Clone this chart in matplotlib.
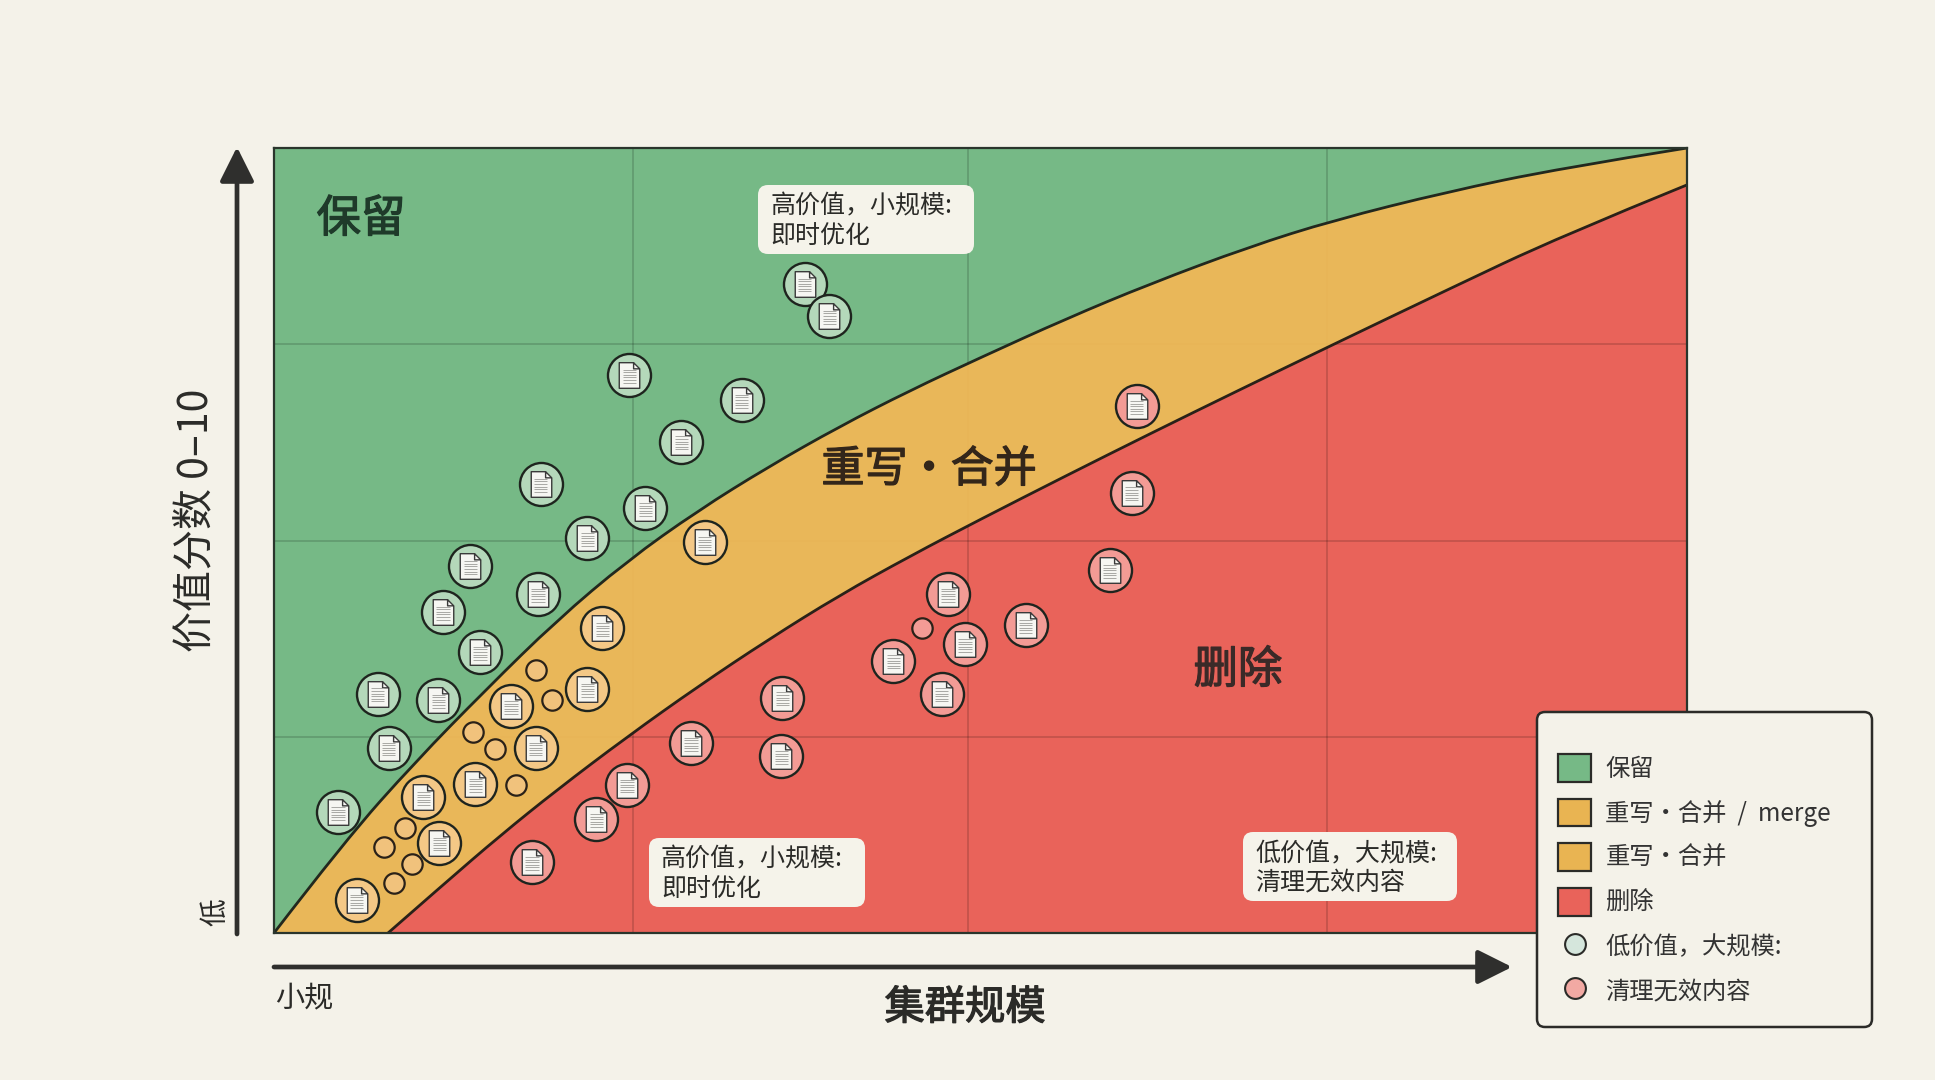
'''
Content triage chart: cluster size vs value score, three action zones.
'''

import matplotlib
matplotlib.use('Agg')
import matplotlib.pyplot as plt
import matplotlib.patheffects as pe
from matplotlib.path import Path
from matplotlib.patches import FancyBboxPatch, Patch, PathPatch
from matplotlib.lines import Line2D

plt.rcParams['font.family'] = ['Noto Sans CJK SC', 'DejaVu Sans']

# zone boundaries, cluster size (0-100) against value score (0-10)
upper_x = [0, 5, 10, 15, 20, 25, 30, 35, 40, 45, 50, 56, 62, 69, 75, 83, 91, 100]
upper_y = [0, 1.17, 2.18, 3.10, 3.98, 4.74, 5.38, 5.94, 6.45, 6.91, 7.33,
           7.82, 8.27, 8.74, 9.08, 9.44, 9.74, 10]
lower_x = [8.07, 12, 16, 20, 25, 30, 35, 40, 45, 50, 56, 62, 68, 75, 83, 91, 100]
lower_y = [0, 0.62, 1.24, 1.82, 2.50, 3.14, 3.74, 4.30, 4.80, 5.27,
           5.82, 6.36, 6.89, 7.50, 8.19, 8.87, 9.53]

# pages
green_x = [37.56, 39.30, 25.15, 33.10, 28.82, 18.87, 26.29, 22.18,
           13.89, 18.69, 11.97, 14.59, 7.34, 11.62, 8.12, 4.54]
green_y = [8.27, 7.86, 7.11, 6.79, 6.26, 5.72, 5.41, 5.03,
           4.67, 4.32, 4.09, 3.58, 3.05, 2.97, 2.36, 1.54]
orange_x = [30.48, 23.23, 22.18, 16.77, 18.52, 14.24, 10.57, 11.70, 5.85]
orange_y = [4.98, 3.88, 3.11, 2.89, 2.36, 1.90, 1.73, 1.15, 0.42]
orange_small_x = [18.52, 19.65, 14.06, 15.63, 17.12, 9.26, 7.77, 9.78, 8.47]
orange_small_y = [3.35, 2.97, 2.56, 2.34, 1.89, 1.34, 1.10, 0.88, 0.64]
red_x = [61.05, 60.70, 59.13, 47.69, 53.19, 48.91, 43.84, 47.25,
         35.98, 35.90, 29.52, 24.98, 22.80, 18.25]
red_y = [6.71, 5.61, 4.62, 4.32, 3.92, 3.68, 3.47, 3.05,
         3.00, 2.25, 2.42, 1.89, 1.45, 0.90]
red_small_x = [45.85]
red_small_y = [3.88]

grid_x = [25.4, 49.1, 74.5]
grid_y = [2.5, 5, 7.5]

legend_labels = ['保留', '重写·合并  /  merge', '重写·合并', '删除',
                 '低价值，大规模:', '清理无效内容']

BG = '#f4f2e9'
GREEN = '#76b986'
ORANGE = '#e9b452'
RED = '#e9635a'
DARK = '#2b2b28'

# document icon, page with a folded corner
page = Path([(-.4, -.5), (.4, -.5), (.4, .26), (.16, .5), (-.4, .5), (-.4, -.5),
             (.16, .5), (.16, .26), (.4, .26)],
            [Path.MOVETO, Path.LINETO, Path.LINETO, Path.LINETO, Path.LINETO, Path.CLOSEPOLY,
             Path.MOVETO, Path.LINETO, Path.LINETO])
rows = [.2, .1, 0, -.1, -.2, -.3]
text_lines = Path([v for r in rows for v in ((-.26, r), (.26, r))],
                  [c for r in rows for c in (Path.MOVETO, Path.LINETO)])


def curve(x, y):
    # quadratic pieces through the midpoints, so the read points draw as a smooth edge
    pts = list(zip(x, y))
    verts = [pts[0]]
    codes = [Path.MOVETO]
    for i in range(1, len(pts)-1):
        end = pts[i+1] if i == len(pts)-2 else ((pts[i][0]+pts[i+1][0])/2, (pts[i][1]+pts[i+1][1])/2)
        verts += [pts[i], end]
        codes += [Path.CURVE3, Path.CURVE3]
    return verts, codes


def pages(ax, x, y, face):
    ax.scatter(x, y, s=960, facecolor=face, edgecolor='#1e241e', linewidth=1.7, zorder=5)
    ax.scatter(x, y, s=340, marker=page, facecolor='#f6f6f2', edgecolor='#3a3a3a', linewidth=1.0, zorder=6)
    ax.scatter(x, y, s=340*.36, marker=text_lines, facecolor='none', edgecolor='#a8a8a4', linewidth=.7, zorder=7)


def heavy(color):
    # a little heavier than the regular weight, lighter than bold
    return [pe.withStroke(linewidth=.9, foreground=color)]


fig = plt.figure(figsize=(19.35, 10.8), dpi=100, facecolor=BG)
ax = fig.add_axes([274/1935, 1-933/1080, 1413/1935, 785/1080])
ax.set_xlim(0, 100)
ax.set_ylim(0, 10)
ax.set_xticks([])
ax.set_yticks([])
for s in ax.spines.values():
    s.set_linewidth(1.6)
    s.set_color('#2a352c')
    s.set_zorder(8)

up_v, up_c = curve(upper_x, upper_y)
lo_v, lo_c = curve(lower_x, lower_y)
back_v, back_c = curve(lower_x[::-1], lower_y[::-1])

green_zone = Path(up_v + [(100, 10), (0, 10), (0, 0)],
                  up_c + [Path.LINETO, Path.LINETO, Path.CLOSEPOLY])
red_zone = Path(lo_v + [(100, 0), (lower_x[0], 0)],
                lo_c + [Path.LINETO, Path.CLOSEPOLY])
band_zone = Path(up_v + back_v + [(0, 0)],
                 up_c + [Path.LINETO] + back_c[1:] + [Path.CLOSEPOLY])

ax.add_patch(PathPatch(green_zone, facecolor=GREEN, lw=0, zorder=1))
ax.add_patch(PathPatch(red_zone, facecolor=RED, lw=0, zorder=1))
for g in grid_x:
    ax.axvline(g, color='k', alpha=.15, lw=1.4, zorder=2)
for g in grid_y:
    ax.axhline(g, color='k', alpha=.15, lw=1.4, zorder=2)
ax.add_patch(PathPatch(band_zone, facecolor=ORANGE, lw=0, alpha=.96, zorder=3))
ax.add_patch(PathPatch(Path(up_v, up_c), facecolor='none', edgecolor='#22281e', lw=2, zorder=4))
ax.add_patch(PathPatch(Path(lo_v, lo_c), facecolor='none', edgecolor='#2a2118', lw=2, zorder=4))

pages(ax, green_x, green_y, '#b4d8ba')
pages(ax, orange_x, orange_y, '#f4c886')
pages(ax, red_x, red_y, '#f39b95')
ax.scatter(orange_small_x, orange_small_y, s=215, facecolor='#f1c27c', edgecolor='#2a2118', linewidth=1.6, zorder=5)
ax.scatter(red_small_x, red_small_y, s=215, facecolor='#f39b95', edgecolor='#2a2118', linewidth=1.6, zorder=5)

## Overlay in pixel coordinates for arrows, labels and the key
ov = fig.add_axes([0, 0, 1, 1], facecolor='none')
ov.set_xlim(0, 1935)
ov.set_ylim(1080, 0)
ov.axis('off')

arrow = dict(arrowstyle='-|>,head_length=2.1,head_width=1.05', lw=3.4, color='#2f2f2d',
             shrinkA=0, shrinkB=0, mutation_scale=10)
ov.annotate('', xy=(237, 147), xytext=(237, 934), arrowprops=arrow)
ov.annotate('', xy=(1512, 967), xytext=(274, 967), arrowprops=arrow)

ov.text(361, 219, '保留', fontsize=32, color='#1f3a2a', ha='center', va='center', path_effects=heavy('#1f3a2a'))
ov.text(929, 470, '重写·合并', fontsize=31, color='#33261a', ha='center', va='center', path_effects=heavy('#33261a'))
ov.text(1238, 670, '删除', fontsize=32, color='#3a2a28', ha='center', va='center', path_effects=heavy('#3a2a28'))
ov.text(965, 1008, '集群规模', fontsize=29, color='#2b2b28', ha='center', va='center', path_effects=heavy('#2b2b28'))
ov.text(197, 520, '价值分数 0–10', fontsize=29.5, color='#2b2b28', rotation=90, ha='center', va='center')
ov.text(275, 998, '小规', fontsize=21, color=DARK, ha='left', va='center')
ov.text(215, 912, '低', fontsize=20, color=DARK, rotation=90, ha='center', va='center')

# note boxes: left, top, width, height in pixels
notes = [(758, 185, 216, 69, '高价值，小规模:\n即时优化'),
         (649, 838, 216, 69, '高价值，小规模:\n即时优化'),
         (1243, 832, 214, 69, '低价值，大规模:\n清理无效内容')]
for left, top, w, h, label in notes:
    ov.add_patch(FancyBboxPatch((left+8, top+8), w-16, h-16, boxstyle='round,pad=8,rounding_size=10',
                                facecolor='#f5f3ea', edgecolor='none', zorder=3))
    ov.text(left+12, top+h/2+2, label, fontsize=18, color=DARK, ha='left', va='center',
            linespacing=1.18, zorder=4)

box = FancyBboxPatch((1541, 716), 327, 307, boxstyle='round,pad=4,rounding_size=8',
                     facecolor=BG, edgecolor=DARK, linewidth=1.8, zorder=9)
ov.add_patch(box)
handles = [Patch(facecolor=GREEN, edgecolor=DARK, lw=1.6),
           Patch(facecolor=ORANGE, edgecolor=DARK, lw=1.6),
           Patch(facecolor=ORANGE, edgecolor=DARK, lw=1.6),
           Patch(facecolor=RED, edgecolor=DARK, lw=1.6),
           Line2D([], [], ls='none', marker='o', ms=15, mfc='#d5e6dc', mec=DARK, mew=1.5),
           Line2D([], [], ls='none', marker='o', ms=15, mfc='#f2a9a3', mec=DARK, mew=1.5)]
leg = ov.legend(handles, legend_labels, loc='upper left', bbox_to_anchor=(1558, 754),
                bbox_transform=ov.transData, frameon=False, fontsize=17.5, borderaxespad=0,
                borderpad=0, handlelength=1.37, handleheight=1.37, handletextpad=.58,
                labelspacing=.69, labelcolor='#333333')
leg.set_zorder(10)

fig.savefig('out.png', dpi=100, facecolor=BG)
